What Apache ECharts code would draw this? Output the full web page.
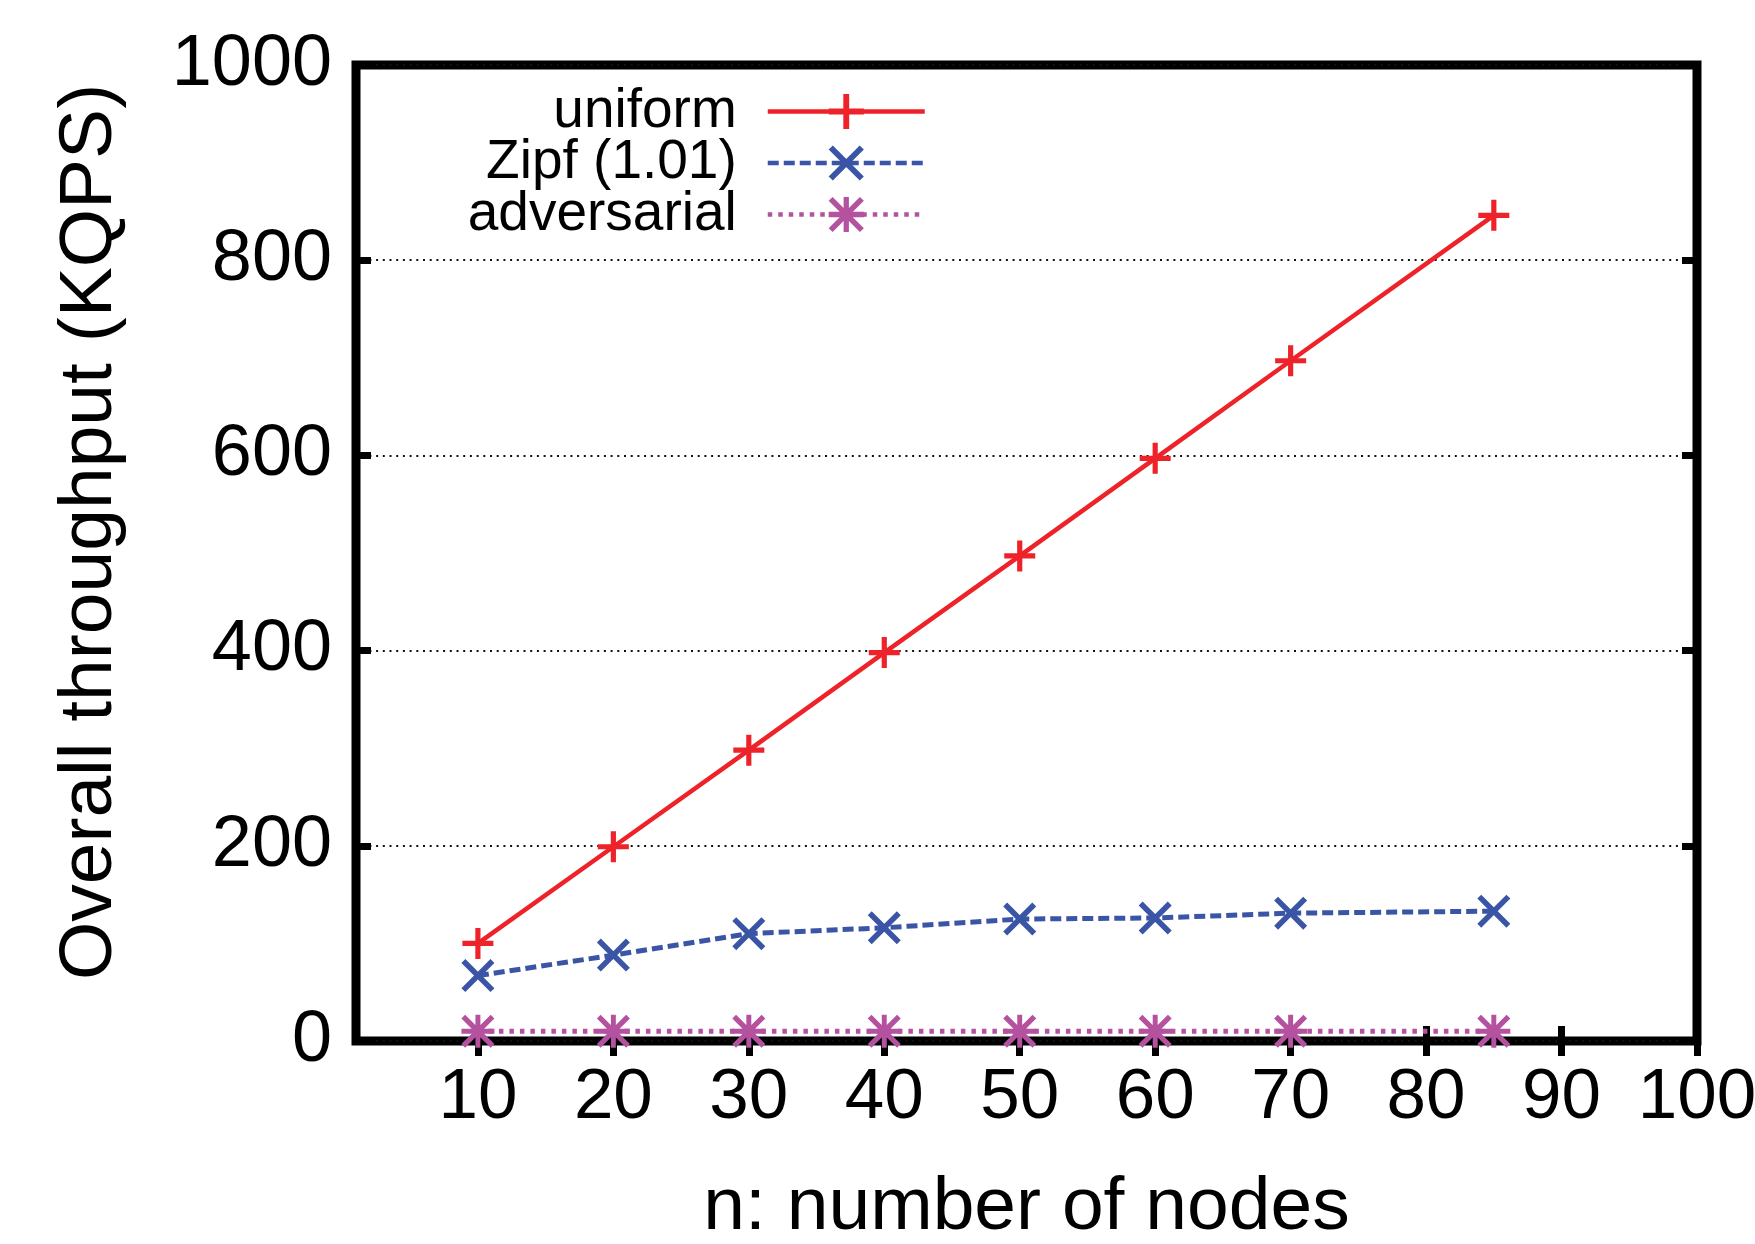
<!DOCTYPE html>
<html><head><meta charset="utf-8">
<script src="https://cdn.jsdelivr.net/npm/echarts@6/dist/echarts.min.js"></script>
<style>html,body{margin:0;padding:0;background:#fff}#c{width:1755px;height:1244px}</style>
</head><body><div id="c"></div>
<script>
const nodes = [10, 20, 30, 40, 50, 60, 70, 85];
const uniform = [100, 199, 298, 398, 497, 597, 697, 846];
const zipf = [67, 88, 110, 116, 125, 126, 131, 133];
const adversarial = [10, 10, 10, 10, 10, 10, 10, 10];
const xTicks = [10, 20, 30, 40, 50, 60, 70, 80, 90, 100];
const seriesNames = ['uniform', 'Zipf (1.01)', 'adversarial'];
const xTitle = 'n: number of nodes';
const yTitle = 'Overall throughput (KQPS)';

const FONT = '"Liberation Sans", Arial, Helvetica, sans-serif';
const PLUS = 'path://M12.5,0 H17.5 V12.5 H30 V17.5 H17.5 V30 H12.5 V17.5 H0 V12.5 H12.5 Z';
const CROSS = 'path://M0,3.8 L3.8,0 L32,28.2 L28.2,32 Z M28.2,0 L32,3.8 L3.8,32 L0,28.2 Z';
const STAR = 'path://M13.6,0 H18.4 V13.6 H32 V18.4 H18.4 V32 H13.6 V18.4 H0 V13.6 H13.6 Z M0,3.6 L3.6,0 L32,28.4 L28.4,32 Z M28.4,0 L32,3.6 L3.6,32 L0,28.4 Z';

function pairs(xs, ys) { return xs.map((x, i) => [x, ys[i]]); }

const tickStyle = { show: true, inside: true, length: 15, lineStyle: { color: '#000', width: 7 } };

const chart = echarts.init(document.getElementById('c'), null, { renderer: 'canvas' });
chart.setOption({
  animation: false,
  backgroundColor: '#fff',
  grid: { left: 356, right: 58, top: 65, bottom: 203, containLabel: false, outerBoundsMode: 'none',
          show: true, borderColor: '#000', borderWidth: 9, backgroundColor: 'transparent' },
  legend: {
    orient: 'vertical', right: 828, top: 84, align: 'right',
    itemWidth: 157, itemHeight: 44, itemGap: -3.5, padding: 0,
    lineStyle: { width: 4.5 },
    textStyle: { fontFamily: FONT, fontSize: 55, color: '#000', lineHeight: 44, padding: [0, 26, 0, 0] },
    data: seriesNames
  },
  xAxis: [{
    type: 'value', min: 1, max: 100, position: 'bottom',
    axisLine: { show: false },
    axisTick: Object.assign({ customValues: xTicks }, tickStyle),
    axisLabel: { customValues: xTicks, fontFamily: FONT, fontSize: 71, color: '#000', margin: 22 },
    splitLine: { show: false },
    name: xTitle, nameLocation: 'middle', nameGap: 130,
    nameTextStyle: { fontFamily: FONT, fontSize: 75, color: '#000' }
  }, {
    type: 'value', min: 1, max: 100, position: 'top',
    axisLine: { show: false },
    axisTick: Object.assign({ customValues: xTicks }, tickStyle),
    axisLabel: { show: false },
    splitLine: { show: false }
  }],
  yAxis: [{
    type: 'value', min: 0, max: 1000, interval: 200, position: 'left',
    axisLine: { show: false },
    axisTick: tickStyle,
    axisLabel: { fontFamily: FONT, fontSize: 72, color: '#000', margin: 24, formatter: v => String(v) },
    splitLine: { show: true, lineStyle: { color: '#111', width: 2, type: [2, 4.7] } }
  }, {
    type: 'value', min: 0, max: 1000, interval: 200, position: 'right',
    axisLine: { show: false },
    axisTick: tickStyle,
    axisLabel: { show: false },
    splitLine: { show: false }
  }],
  graphic: [{
    type: 'text', x: 90, y: 532, rotation: Math.PI / 2,
    style: { text: yTitle, fontFamily: FONT, fontSize: 75, fill: '#000', align: 'center', verticalAlign: 'middle' }
  }],
  series: [{
    name: seriesNames[0], type: 'line', data: pairs(nodes, uniform),
    symbol: PLUS, symbolSize: 31, itemStyle: { color: '#ee2229' },
    lineStyle: { color: '#ee2229', width: 4.5, type: 'solid' }, z: 4
  }, {
    name: seriesNames[1], type: 'line', data: pairs(nodes, zipf),
    symbol: CROSS, symbolSize: 33, itemStyle: { color: '#3a55a5' },
    lineStyle: { color: '#3a55a5', width: 5, type: [11, 5] }, z: 3
  }, {
    name: seriesNames[2], type: 'line', data: pairs(nodes, adversarial),
    symbol: STAR, symbolSize: 33, itemStyle: { color: '#b4529f' },
    lineStyle: { color: '#b4529f', width: 5, type: [4.5, 6] }, z: 2
  }]
});
</script></body></html>
